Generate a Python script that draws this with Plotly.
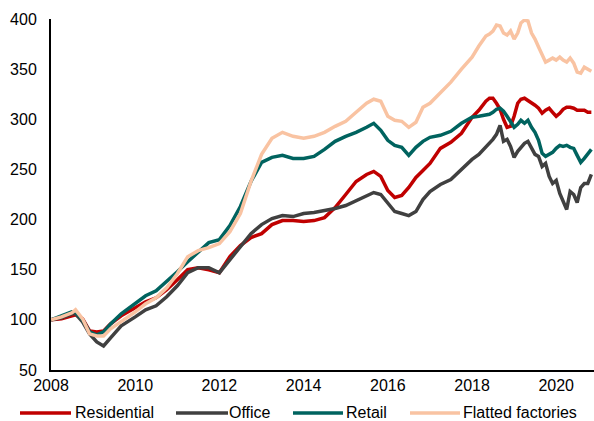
import plotly.graph_objects as go

dates = ["2008-01","2008-04","2008-07","2008-08","2008-10","2008-12","2009-02","2009-04","2009-06","2009-09",
         "2010-01","2010-04","2010-07","2010-10","2011-01","2011-04","2011-07","2011-10","2012-01","2012-04",
         "2012-07","2012-10","2013-01","2013-04","2013-07","2013-10","2014-01","2014-04","2014-07","2014-10",
         "2015-01","2015-04","2015-07","2015-09","2015-11","2016-01","2016-03","2016-05","2016-07","2016-09",
         "2016-11","2017-01","2017-04","2017-07","2017-10","2018-01","2018-03","2018-05","2018-06","2018-07",
         "2018-08","2018-09","2018-10","2018-11","2018-12","2019-01","2019-02","2019-03","2019-04","2019-05",
         "2019-06","2019-07","2019-08","2019-09","2019-10","2019-11","2019-12","2020-01","2020-02","2020-03",
         "2020-04","2020-05","2020-06","2020-07","2020-08","2020-09","2020-10","2020-11"]

residential = [100,101,104,105,101,89,88,89,96,104,
               112,118,122,130,140,150,152,150,147,163,
               174,182,186,195,199,199,198,199,202,212,
               225,238,245,248,243,229,222,224,232,242,
               249,256,271,277,286,302,309,318,321,321,
               316,310,300,292,293,303,316,320,321,319,
               317,314,311,306,309,311,307,303,306,310,
               312,312,311,309,309,309,307,307]

office = [100,102,106,106,98,86,78,74,82,94,
          103,110,114,123,134,147,152,152,147,160,
          172,186,195,201,204,203,206,207,209,211,
          214,219,224,227,225,216,208,206,204,208,
          220,228,235,240,250,260,265,272,276,280,
          285,294,278,280,273,262,268,272,276,278,
          272,265,263,253,256,243,236,239,226,218,
          210,228,225,217,232,236,236,245]

retail = [100,104,108,108,100,88,85,88,96,106,
          116,124,129,138,148,158,168,177,180,194,
          213,238,257,262,264,261,261,263,270,278,
          283,287,292,296,289,279,274,272,264,272,
          278,282,284,288,296,302,303,304,305,307,
          310,311,308,303,297,292,295,299,296,299,
          292,287,279,266,263,265,267,271,274,273,
          274,272,271,264,257,261,266,270]

flatted = [100,103,107,110,101,86,84,84,91,98,
           108,116,122,132,146,163,169,172,176,188,
           206,238,265,281,287,283,281,283,287,293,
           298,307,316,320,318,303,299,298,292,297,
           312,316,326,337,350,362,373,383,385,388,
           394,393,386,384,388,380,386,396,399,398,
           386,380,372,365,357,359,361,359,362,359,
           357,361,356,347,346,352,350,348]

series_names = ["Residential", "Office", "Retail", "Flatted factories"]
series_values = [residential, office, retail, flatted]
colors = ["#C00000", "#404040", "#00635F", "#F9C3A2"]

W, H = 594, 421
ML, MR, MT, MB = 51, 0, 19, 51
PW, PH = W - ML - MR, H - MT - MB

def px_x(p):
    return (p - ML) / PW

def px_y(p):
    return (H - MB - p) / PH

fig = go.Figure()
for name, vals, col in zip(series_names, series_values, colors):
    fig.add_trace(go.Scatter(x=dates, y=vals, mode="lines", name=name,
                             line=dict(color=col, width=3.5), showlegend=False))

# custom legend (sample line + label) below the plot
legend_layout = [(20, 71, 76), (176, 228, 230), (293, 343, 347), (410, 460, 464)]
leg_y = 413
shapes, annotations = [], []
for (x0, x1, tx), name, col in zip(legend_layout, series_names, colors):
    shapes.append(dict(type="line", xref="paper", yref="paper",
                       x0=px_x(x0), x1=px_x(x1), y0=px_y(leg_y), y1=px_y(leg_y),
                       line=dict(color=col, width=3.5)))
    annotations.append(dict(xref="paper", yref="paper", x=px_x(tx), y=px_y(leg_y - 1),
                            xanchor="left", yanchor="middle", text=name, showarrow=False,
                            font=dict(size=16, color="#000000"), xshift=-2, borderpad=0))

fig.update_layout(
    width=W, height=H,
    margin=dict(l=ML, r=MR, t=MT, b=MB, autoexpand=False),
    paper_bgcolor="white", plot_bgcolor="white",
    font=dict(family="Liberation Sans, Arial, sans-serif", size=16, color="#000000"),
    showlegend=False,
    shapes=shapes, annotations=annotations,
)
fig.update_xaxes(type="date", range=["2008-01-01", "2020-11-24"], dtick="M24", tick0="2008-01-01",
                 tickformat="%Y", showgrid=False, zeroline=False, showline=True,
                 linecolor="black", linewidth=2, ticks="", ticklabelstandoff=0, automargin=False)
fig.update_yaxes(range=[50, 400], dtick=50, showgrid=False, zeroline=False, showline=True,
                 linecolor="black", linewidth=2, ticks="", ticklabelstandoff=9, automargin=False)

fig.write_html("out.html", config={"displayModeBar": False},
               post_script="document.body.style.margin='0px';document.body.style.overflow='hidden';")
